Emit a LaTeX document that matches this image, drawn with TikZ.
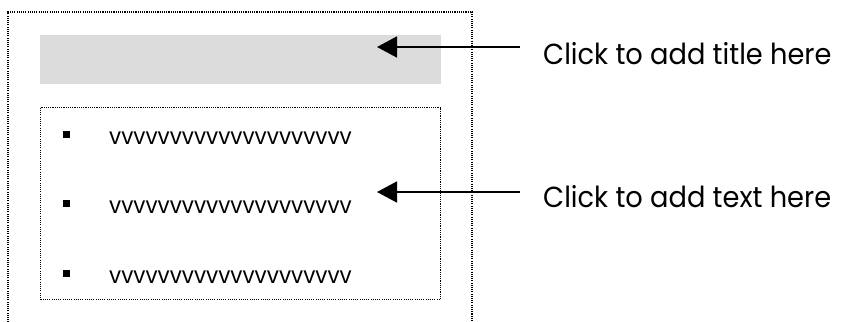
\documentclass[tikz,border=0pt]{standalone}
\usepackage{fontspec}
\setmainfont{Poppins}
\newfontfamily\narrowfont[FakeStretch=0.94]{Poppins}
\usetikzlibrary{arrows.meta}
\definecolor{titlegray}{RGB}{220,220,220}
\tikzset{
  dotbox/.style={draw=black, line width=1.1pt, dash pattern=on 1.1pt off 1.1pt},
  bulletsq/.style={fill=black, inner sep=0pt, minimum size=7pt, draw=none},
  vtext/.style={anchor=base west, inner sep=0pt, font=\narrowfont\fontsize{23}{23}\selectfont},
  lbl/.style={anchor=base west, inner sep=0pt, font=\narrowfont\fontsize{29}{29}\selectfont},
  callout/.style={line width=1.6pt, -{Triangle[length=20pt,width=21pt]}}
}
\begin{document}
\begin{tikzpicture}[x=1pt,y=-1pt]
\useasboundingbox (0,0) rectangle (850,321);
\begin{scope}
\clip (0,0) rectangle (850,321);
\draw[dotbox] (8,340) -- (8,12) -- (472,12) -- (472,340);
\end{scope}
\node[fill=titlegray, inner sep=0pt, minimum width=401pt, minimum height=49pt, anchor=north west] (title) at (40,35) {};
\node[dotbox, inner sep=0pt, minimum width=400pt, minimum height=192pt, anchor=north west] (body) at (40,107) {};
\node[bulletsq] (b1) at (66.5,134.5) {};
\node[bulletsq] (b2) at (66.5,203) {};
\node[bulletsq] (b3) at (66.5,273) {};
\node[vtext] (v1) at (109,144) {vvvvvvvvvvvvvvvvvvvv};
\node[vtext] (v2) at (109,213) {vvvvvvvvvvvvvvvvvvvv};
\node[vtext] (v3) at (109,283) {vvvvvvvvvvvvvvvvvvvv};
\node[lbl] (l1) at (543,64) {Click to add title here};
\node[lbl] (l2) at (543,207) {Click to add text here};
\coordinate (t1) at (377,47);
\coordinate (t2) at (377,192);
\coordinate (s1) at (520,47);
\coordinate (s2) at (520,192);
\draw[callout] (s1) -- (t1);
\draw[callout] (s2) -- (t2);
\end{tikzpicture}
\end{document}
